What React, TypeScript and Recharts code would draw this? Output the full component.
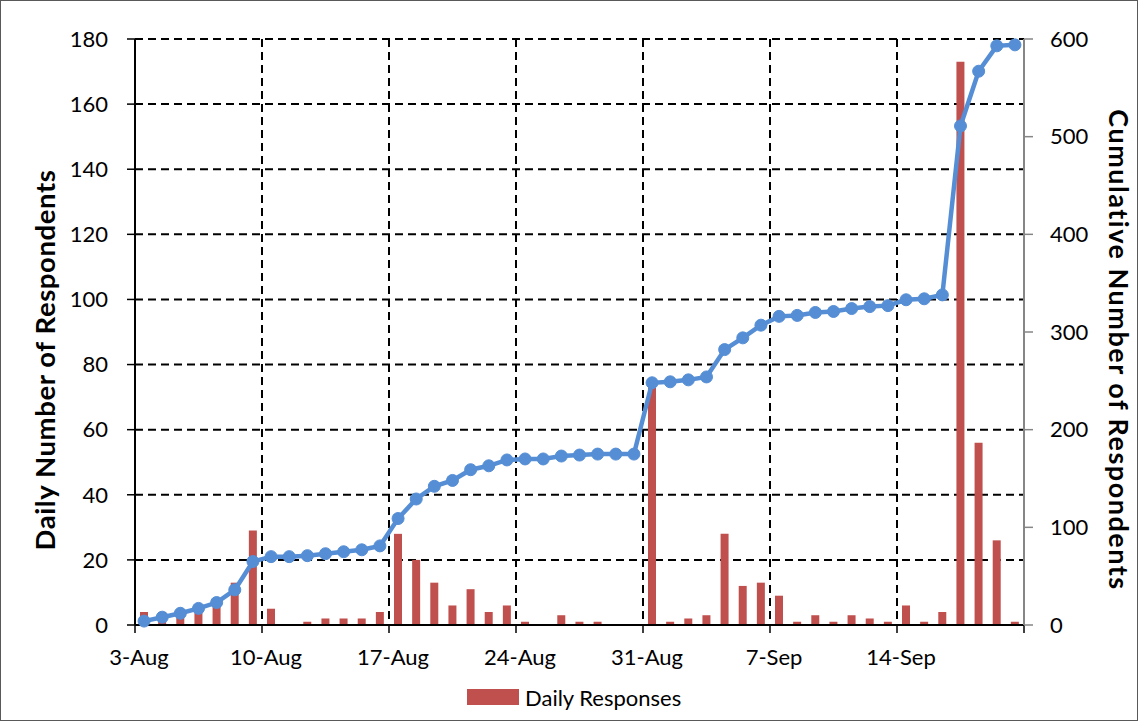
import {
  ComposedChart,
  Bar,
  Line,
  XAxis,
  YAxis,
  CartesianGrid,
  Legend,
} from 'recharts';

const dates = [
  '3-Aug', '4-Aug', '5-Aug', '6-Aug', '7-Aug', '8-Aug', '9-Aug',
  '10-Aug', '11-Aug', '12-Aug', '13-Aug', '14-Aug', '15-Aug', '16-Aug',
  '17-Aug', '18-Aug', '19-Aug', '20-Aug', '21-Aug', '22-Aug', '23-Aug',
  '24-Aug', '25-Aug', '26-Aug', '27-Aug', '28-Aug', '29-Aug', '30-Aug',
  '31-Aug', '1-Sep', '2-Sep', '3-Sep', '4-Sep', '5-Sep', '6-Sep',
  '7-Sep', '8-Sep', '9-Sep', '10-Sep', '11-Sep', '12-Sep', '13-Sep',
  '14-Sep', '15-Sep', '16-Sep', '17-Sep', '18-Sep', '19-Sep', '20-Sep',
];

const dailyResponses = [
  4, 4, 4, 5, 6, 13, 29,
  5, 0, 1, 2, 2, 2, 4,
  28, 20, 13, 6, 11, 4, 6,
  1, 0, 3, 1, 1, 0, 0,
  73, 1, 2, 3, 28, 12, 13,
  9, 1, 3, 1, 3, 2, 1,
  6, 1, 4, 173, 56, 26, 1,
];

const cumulativeRespondents = [
  4, 8, 12, 17, 23, 36, 65,
  70, 70, 71, 73, 75, 77, 81,
  109, 129, 142, 148, 159, 163, 169,
  170, 170, 173, 174, 175, 175, 175,
  248, 249, 251, 254, 282, 294, 307,
  316, 317, 320, 321, 324, 326, 327,
  333, 334, 338, 511, 567, 593, 594,
];

const weekLabels = ['3-Aug', '10-Aug', '17-Aug', '24-Aug', '31-Aug', '7-Sep', '14-Sep'];
const dailyTicks = [0, 20, 40, 60, 80, 100, 120, 140, 160, 180];
const cumulativeTicks = [0, 100, 200, 300, 400, 500, 600];

const BAR_RED = '#C0504D';
const LINE_BLUE = '#558ED5';

// each day occupies one slot; the mark sits in the middle of it
const data = dates.map((date, i) => ({
  slot: i + 0.5,
  date,
  daily: dailyResponses[i],
  cumulative: cumulativeRespondents[i],
}));

const weekTicks = [...weekLabels.map((l) => dates.indexOf(l)), dates.length];
const dayTicks = [...dates.map((_, i) => i), dates.length];

function formatWeek(v: number): string {
  const label = dates[v];
  return label && weekLabels.includes(label) ? label : '';
}

function LegendContent() {
  return (
    <div style={{ display: 'flex', alignItems: 'center', height: 24, fontSize: 22, color: '#000' }}>
      <span style={{ display: 'inline-block', width: 52, height: 16, background: BAR_RED, marginRight: 6 }} />
      <span>Daily Responses</span>
    </div>
  );
}

export default function App() {
  return (
    <div
      style={{
        position: 'absolute',
        left: 0,
        top: 0,
        width: 1138,
        height: 721,
        boxSizing: 'border-box',
        border: '1.5px solid #595959',
        background: '#fff',
        fontFamily: 'Lato, "Open Sans", sans-serif',
      }}
    >
      <ComposedChart
        width={1135}
        height={718}
        data={data}
        margin={{ top: 38, right: 12, left: 34, bottom: 30 }}
      >
        <XAxis
          xAxisId="minor"
          type="number"
          dataKey="slot"
          domain={[0, dates.length]}
          ticks={dayTicks}
          tick={() => <g />}
          axisLine={false}
          height={0}
          mirror
          tickSize={6}
          tickLine={{ stroke: '#000', strokeWidth: 1.5 }}
        />
        <XAxis
          type="number"
          dataKey="slot"
          domain={[0, dates.length]}
          ticks={weekTicks}
          tickFormatter={formatWeek}
          interval={0}
          height={40}
          tickSize={8}
          tickMargin={16}
          tick={{ fill: '#000', fontSize: 22, dx: 4 }}
          tickLine={{ stroke: '#000', strokeWidth: 1.5 }}
          axisLine={{ stroke: '#000', strokeWidth: 2 }}
        />
        <YAxis
          yAxisId="left"
          domain={[0, 180]}
          ticks={dailyTicks}
          interval={0}
          width={100}
          tickSize={8}
          tickMargin={19}
          tick={{ fill: '#000', fontSize: 22 }}
          tickLine={{ stroke: '#000', strokeWidth: 1.5 }}
          axisLine={{ stroke: '#000', strokeWidth: 2 }}
          label={({ viewBox }: any) => {
            const cx = viewBox.x + 9;
            const cy = viewBox.y + viewBox.height / 2 + 28;
            return (
              <text
                x={cx}
                y={cy}
                transform={`rotate(-90, ${cx}, ${cy})`}
                textAnchor="middle"
                dominantBaseline="central"
                fontSize={27.5}
                letterSpacing={0.6}
                fontWeight="bold"
                fill="#000"
              >
                Daily Number of Respondents
              </text>
            );
          }}
        />
        <YAxis
          yAxisId="right"
          orientation="right"
          domain={[0, 600]}
          ticks={cumulativeTicks}
          interval={0}
          width={100}
          tickSize={9}
          tickMargin={17}
          tick={{ fill: '#000', fontSize: 22 }}
          tickLine={{ stroke: '#868686', strokeWidth: 1.5 }}
          axisLine={{ stroke: '#868686', strokeWidth: 2 }}
          label={({ viewBox }: any) => {
            const cx = viewBox.x + 95;
            const cy = viewBox.y + viewBox.height / 2 + 18;
            return (
              <text
                x={cx}
                y={cy}
                transform={`rotate(90, ${cx}, ${cy})`}
                textAnchor="middle"
                dominantBaseline="central"
                fontSize={27}
                letterSpacing={1.5}
                fontWeight="bold"
                fill="#000"
              >
                Cumulative Number of Respondents
              </text>
            );
          }}
        />
        <CartesianGrid yAxisId="left" stroke="#000" strokeWidth={2} strokeDasharray="8 5" />
        <Legend
          verticalAlign="bottom"
          content={<LegendContent />}
          wrapperStyle={{ left: 466, top: 684, width: 300 }}
        />
        <Bar
          yAxisId="left"
          dataKey="daily"
          name="Daily Responses"
          fill={BAR_RED}
          barSize={8}
          isAnimationActive={false}
        />
        <Line
          yAxisId="right"
          dataKey="cumulative"
          type="linear"
          stroke={LINE_BLUE}
          strokeWidth={4.5}
          dot={{ r: 6, fill: LINE_BLUE, stroke: LINE_BLUE, strokeWidth: 1 }}
          legendType="none"
          isAnimationActive={false}
        />
      </ComposedChart>
    </div>
  );
}
